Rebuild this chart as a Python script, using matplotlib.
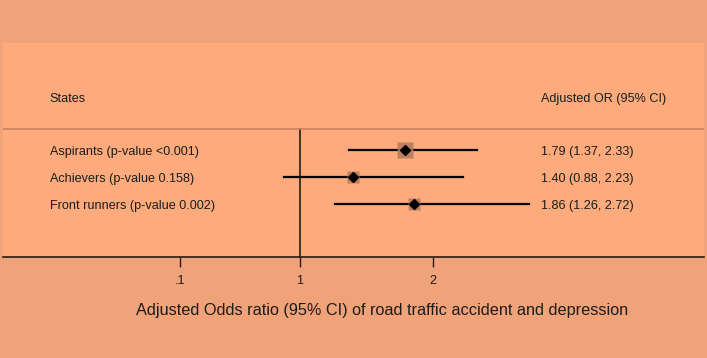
import matplotlib.pyplot as plt

# data
labels = ['Aspirants (p-value <0.001)', 'Achievers (p-value 0.158)', 'Front runners (p-value 0.002)']
odds = [1.79, 1.40, 1.86]
lower = [1.37, 0.88, 1.26]
upper = [2.33, 2.23, 2.72]
weights = [12, 8, 8]
tick_vals = [0.1, 1, 2]
tick_labels = ['.1', '1', '2']

outer_bg = '#F0A278'
inner_bg = '#FDAA7C'
txt = '#1c1c1c'

plt.rcParams['font.family'] = ['Liberation Sans', 'DejaVu Sans']

fig = plt.figure(figsize=(7.07, 3.58), dpi=100)
fig.patch.set_facecolor(outer_bg)
ax = fig.add_axes([3 / 707, 1 - 257 / 358, 701 / 707, 214 / 358])
ax.set_facecolor(inner_bg)

xmin, xmax = -1.235, 4.04
ax.set_xlim(xmin, xmax)
ax.set_ylim(3.96, -3.96)

rows = list(range(len(labels)))
for y, o, lo, hi, w in zip(rows, odds, lower, upper, weights):
    ax.plot([lo, hi], [y, y], color='black', lw=1.6, zorder=2)
    ax.plot(o, y, marker='s', ms=w, color='#B07A5C', alpha=0.85, mec='none', zorder=3)
    ax.plot(o, y, marker='D', ms=5, color='black', zorder=4)

# reference line and header separator
ax.plot([1, 1], [-0.78, 3.96], color='#2a1a10', lw=1.2, zorder=1)
ax.axhline(-0.78, color='#C98260', lw=1.2, zorder=1)

fs = 9.1
dy = 0.07  # small nudge so the text sits level with the markers
ax.text(-0.885, -1.96 + dy, 'States', fontsize=fs, va='center', ha='left', color=txt)
ax.text(2.813, -1.96 + dy, 'Adjusted OR (95% CI)', fontsize=fs, va='center', ha='left', color=txt)
for y, lab, o, lo, hi in zip(rows, labels, odds, lower, upper):
    ax.text(-0.885, y + dy, lab, fontsize=fs, va='center', ha='left', color=txt)
    ax.text(2.813, y + dy, f'{o:.2f} ({lo:.2f}, {hi:.2f})', fontsize=fs, va='center', ha='left', color=txt)

for s in ['top', 'right', 'left']:
    ax.spines[s].set_visible(False)
ax.spines['bottom'].set_color('#2a1a10')
ax.spines['bottom'].set_linewidth(1.2)
ax.set_yticks([])
ax.set_xticks(tick_vals)
ax.set_xticklabels(tick_labels, fontsize=fs, color=txt)
ax.tick_params(axis='x', length=7, width=1, color='#2a1a10', pad=6)

fig.text(382 / 707, 1 - 311 / 358,
         'Adjusted Odds ratio (95% CI) of road traffic accident and depression',
         fontsize=11.7, color=txt, ha='center', va='center')

fig.savefig('out.png', dpi=100, facecolor=outer_bg)
